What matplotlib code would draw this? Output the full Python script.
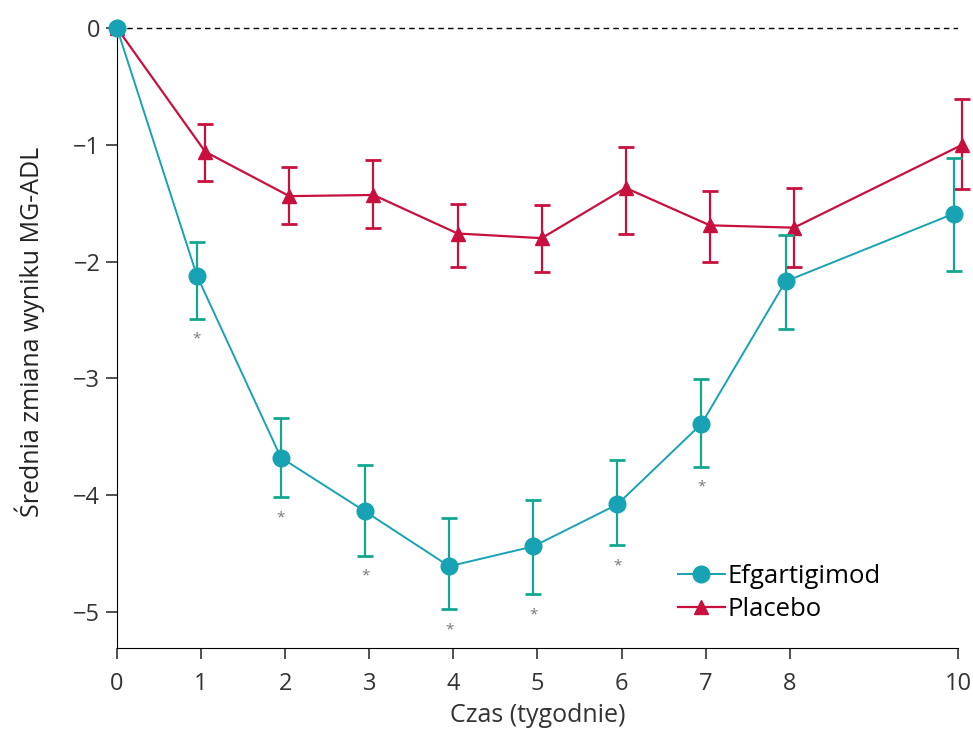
import matplotlib
matplotlib.use('Agg')
import matplotlib.pyplot as plt
import numpy as np

plt.rcParams['font.family'] = ['Open Sans', 'DejaVu Sans']

# dane
weeks = [0, 1, 2, 3, 4, 5, 6, 7, 8, 10]

efg_mean = [0, -2.12, -3.68, -4.14, -4.61, -4.44, -4.08, -3.39, -2.17, -1.59]
efg_upper = [0, -1.83, -3.34, -3.74, -4.20, -4.04, -3.70, -3.01, -1.77, -1.11]
efg_lower = [0, -2.49, -4.02, -4.52, -4.98, -4.85, -4.43, -3.76, -2.58, -2.08]

pla_mean = [0, -1.06, -1.44, -1.43, -1.76, -1.80, -1.37, -1.69, -1.71, -1.00]
pla_upper = [0, -0.82, -1.19, -1.13, -1.51, -1.52, -1.02, -1.40, -1.37, -0.61]
pla_lower = [0, -1.31, -1.68, -1.71, -2.05, -2.09, -1.76, -2.00, -2.05, -1.38]

# tygodnie z istotną różnicą (*)
signif_weeks = [1, 2, 3, 4, 5, 6, 7]

efg_color = '#17a3b3'
efg_err_color = '#12a88f'
pla_color = '#c8103f'

fig = plt.figure(figsize=(9.73, 7.29), dpi=100)
ax = fig.add_axes([0.1202, 0.1111, 0.8644, 0.8665])

x = np.array(weeks, dtype=float)
em = np.array(efg_mean)
pm = np.array(pla_mean)
efg_err = [em - np.array(efg_lower), np.array(efg_upper) - em]
pla_err = [pm - np.array(pla_lower), np.array(pla_upper) - pm]

ax.axhline(0, color='black', linestyle=(0, (4, 3)), linewidth=1, zorder=1)

ax.errorbar(x[1:] + 0.05, pm[1:], yerr=[e[1:] for e in pla_err], fmt='none',
            ecolor=pla_color, elinewidth=1.6, capsize=6, capthick=2, zorder=2,
            clip_on=False)
ax.plot(x + 0.05 * (x > 0), pm, color=pla_color, marker='^', markersize=10,
        linewidth=1.6, label='Placebo', zorder=3, clip_on=False)

ax.errorbar(x[1:] - 0.05, em[1:], yerr=[e[1:] for e in efg_err], fmt='none',
            ecolor=efg_err_color, elinewidth=1.6, capsize=6, capthick=2, zorder=4,
            clip_on=False)
ax.plot(x - 0.05 * (x > 0), em, color=efg_color, marker='o', markersize=12,
        linewidth=1.4, label='Efgartigimod', zorder=5, clip_on=False)

# gwiazdki
for w in signif_weeks:
    i = weeks.index(w)
    ax.text(w - 0.05, efg_lower[i] - 0.11, '*', ha='center', va='top',
            fontsize=11, color='#777777')

ax.set_xlim(0, 10)
ax.set_ylim(-5.31, 0.1)
ax.set_xticks([0, 1, 2, 3, 4, 5, 6, 7, 8, 10])
ax.set_yticks([0, -1, -2, -3, -4, -5])
ax.set_yticklabels(['0', '\u22121', '\u22122', '\u22123', '\u22124', '\u22125'])
ax.spines['top'].set_visible(False)
ax.spines['right'].set_visible(False)
ax.spines['left'].set_bounds(-5.31, 0)
ax.tick_params(axis='both', labelsize=17, length=8, width=1.2, color='#333333',
               labelcolor='#333333')
ax.tick_params(axis='x', pad=9)
ax.tick_params(axis='y', pad=4)

ax.set_xlabel('Czas (tygodnie)', fontsize=18, color='#333333', labelpad=5)
ax.set_ylabel('Średnia zmiana wyniku MG-ADL', fontsize=18, color='#222222',
              labelpad=20)

handles, labels = ax.get_legend_handles_labels()
ax.legend(handles[::-1], labels[::-1], loc='lower left',
          bbox_to_anchor=(0.64, 0.005), frameon=False, fontsize=18.5,
          handlelength=1.8, handletextpad=0.1, labelspacing=0.3)

fig.savefig('out.png', dpi=100)
